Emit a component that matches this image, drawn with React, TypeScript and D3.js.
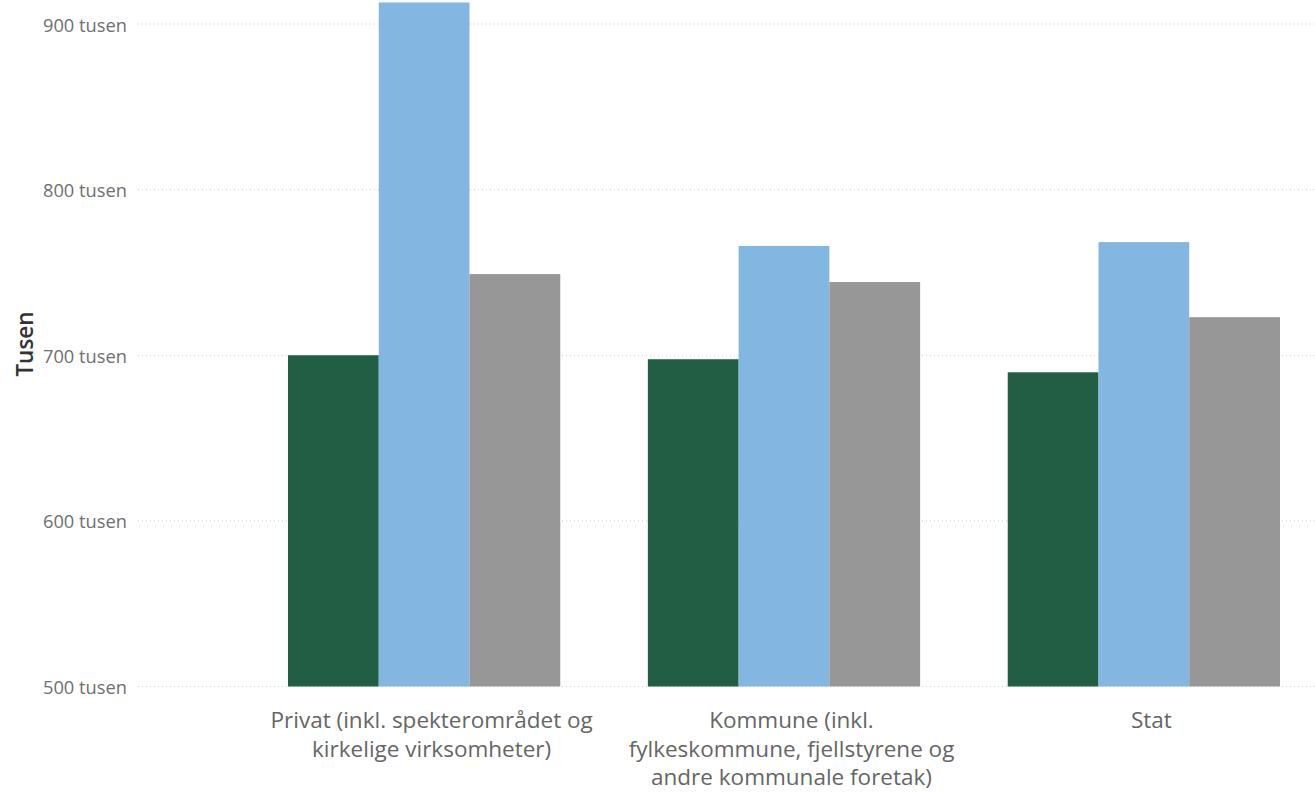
import React from "react";
import * as d3 from "d3";

const categories: string[][] = [
  ["Privat (inkl. spekterområdet og", "kirkelige virksomheter)"],
  ["Kommune (inkl.", "fylkeskommune, fjellstyrene og", "andre kommunale foretak)"],
  ["Stat"],
];
const seriesNames = ["Serie 1", "Serie 2", "Serie 3"];
const seriesColors = ["#215E44", "#84B6E2", "#979797"];
const series1 = [700, 697.6, 689.7];
const series2 = [913, 766, 768.3];
const series3 = [749, 744.2, 723];
const tickValues = [500, 600, 700, 800, 900];
const tickLabels = ["500 tusen", "600 tusen", "700 tusen", "800 tusen", "900 tusen"];
const yTitle = "Tusen";

const W = 1315;
const H = 796;
const FONT = "'Open Sans', 'Noto Sans', sans-serif";
const LABEL_SHIFT = 7.5;

export default function App() {
  const values = [series1, series2, series3];
  const y = d3.scaleLinear().domain([500, 900]).range([686.5, 24]);
  const x0 = d3
    .scaleBand<number>()
    .domain(categories.map((_, i) => i))
    .range([244.2, 1323.8])
    .paddingInner(0.2434)
    .paddingOuter(0.1217);
  const x1 = d3
    .scaleBand<number>()
    .domain(seriesNames.map((_, i) => i))
    .range([0, x0.bandwidth()])
    .padding(0);

  return (
    <svg
      width={W}
      height={H}
      style={{ position: "absolute", left: 0, top: 0, background: "#fff" }}
    >
      {tickValues.map((t, i) => (
        <g key={t}>
          <line
            x1={138}
            x2={W}
            y1={y(t)}
            y2={y(t)}
            stroke="#cfcfcf"
            strokeWidth={1}
            strokeDasharray="1 3"
          />
          <text
            x={127}
            y={y(t)}
            textAnchor="end"
            dominantBaseline="central"
            fontFamily={FONT}
            fontSize={18.3}
            fill="#707070"
          >
            {tickLabels[i]}
          </text>
        </g>
      ))}
      {categories.map((_, ci) =>
        values.map((vals, si) => (
          <rect
            key={`${ci}-${si}`}
            x={(x0(ci) as number) + (x1(si) as number)}
            y={y(vals[ci])}
            width={x1.bandwidth()}
            height={y(500) - y(vals[ci])}
            fill={seriesColors[si]}
          />
        ))
      )}
      {categories.map((lines, ci) => (
        <text
          key={ci}
          textAnchor="middle"
          fontFamily={FONT}
          fontSize={22.5}
          fill="#666"
        >
          {lines.map((ln, li) => (
            <tspan
              key={li}
              x={(x0(ci) as number) + x0.bandwidth() / 2 + LABEL_SHIFT}
              y={728 + li * 28.5}
            >
              {ln}
            </tspan>
          ))}
        </text>
      ))}
      <text
        transform={`translate(33, 344) rotate(-90)`}
        textAnchor="middle"
        fontFamily={FONT}
        fontSize={22.5}
        fontWeight={600}
        fill="#333"
      >
        {yTitle}
      </text>
    </svg>
  );
}
